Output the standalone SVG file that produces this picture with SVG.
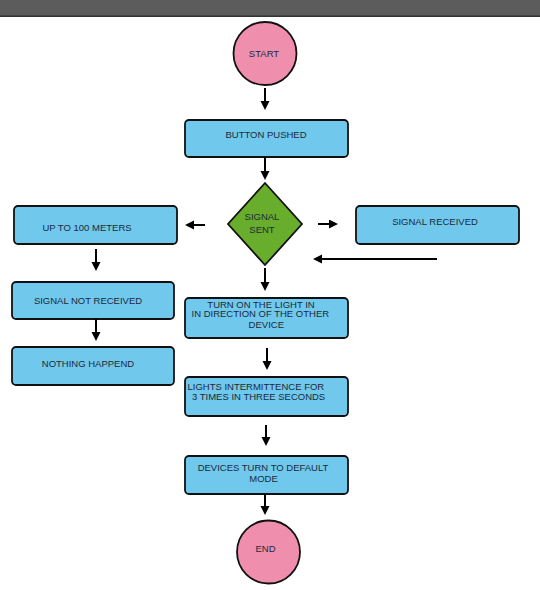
<svg xmlns="http://www.w3.org/2000/svg" width="540" height="590" viewBox="0 0 540 590">
<defs>
<marker id="ah" markerUnits="userSpaceOnUse" markerWidth="10" markerHeight="10" refX="2" refY="4.5" orient="auto">
<path d="M0,0 L9,4.5 L0,9 z" fill="#000"/>
</marker>
<style>
.box{fill:#70c8ec;stroke:#111;stroke-width:1.8}
.circ{fill:#ef8fad;stroke:#111;stroke-width:1.8}
.dia{fill:#68ad2c;stroke:#111;stroke-width:1.8}
.t{font-family:"Liberation Sans",Arial,sans-serif;font-size:9.5px;fill:#1c2a3a;text-anchor:middle}
.s{text-anchor:start}
.c line{stroke:#000;stroke-width:2;marker-end:url(#ah)}
</style>
</defs>
<rect x="0" y="0" width="540" height="590" fill="#fff"/>
<rect x="0" y="0" width="540" height="16" fill="#5c5c5c"/>
<rect x="0" y="15.5" width="540" height="1.5" fill="#333"/>

<g id="start"><circle class="circ" cx="265" cy="53.5" r="31.5"/><text class="t" x="264" y="57">START</text></g>
<g id="button"><rect class="box" x="185" y="120" width="163" height="37" rx="4"/><text class="t" x="266" y="137.5">BUTTON PUSHED</text></g>
<g id="sent"><polygon class="dia" points="265,183 302,224 265,265 228,224"/><text class="t" x="262" y="220">SIGNAL</text><text class="t" x="262" y="232.5">SENT</text></g>
<g id="upto"><rect class="box" x="14" y="206" width="163" height="38" rx="4"/><text class="t" x="87" y="230.5">UP TO 100 METERS</text></g>
<g id="received"><rect class="box" x="356" y="206" width="163" height="38" rx="4"/><text class="t" x="435" y="224.5">SIGNAL RECEIVED</text></g>
<g id="notreceived"><rect class="box" x="12" y="282" width="162" height="37" rx="4"/><text class="t" x="88" y="303.5">SIGNAL NOT RECEIVED</text></g>
<g id="nothing"><rect class="box" x="12" y="347" width="162" height="38" rx="4"/><text class="t" x="88" y="366.5">NOTHING HAPPEND</text></g>
<g id="turnon"><rect class="box" x="185" y="298" width="163" height="40" rx="4"/><text class="t" x="261" y="307.5">TURN ON THE LIGHT IN</text><text class="t s" x="191.5" y="317">IN DIRECTION OF THE OTHER</text><text class="t" x="266.3" y="327.5">DEVICE</text></g>
<g id="lights"><rect class="box" x="185" y="377" width="163" height="39" rx="4"/><text class="t s" x="187.5" y="390">LIGHTS INTERMITTENCE FOR</text><text class="t s" x="192" y="400">3 TIMES IN THREE SECONDS</text></g>
<g id="devices"><rect class="box" x="185" y="456" width="163" height="38" rx="4"/><text class="t" x="263" y="470.5">DEVICES TURN TO DEFAULT</text><text class="t" x="263.5" y="481.5">MODE</text></g>
<g id="end"><circle class="circ" cx="268.5" cy="552" r="31.5"/><text class="t" x="265.5" y="551.5">END</text></g>

<g id="connectors" class="c">
<line x1="265" y1="88" x2="265" y2="103"/>
<line x1="265" y1="157" x2="265" y2="173"/>
<line x1="205" y1="225" x2="192" y2="225"/>
<line x1="318" y1="224" x2="331" y2="224"/>
<line x1="437" y1="259" x2="320" y2="259"/>
<line x1="265" y1="268" x2="265" y2="284"/>
<line x1="96" y1="249" x2="96" y2="264"/>
<line x1="96" y1="319" x2="96" y2="334"/>
<line x1="267" y1="348" x2="267" y2="363"/>
<line x1="266" y1="425" x2="266" y2="439"/>
<line x1="265" y1="494" x2="265" y2="508"/>
</g>
</svg>
